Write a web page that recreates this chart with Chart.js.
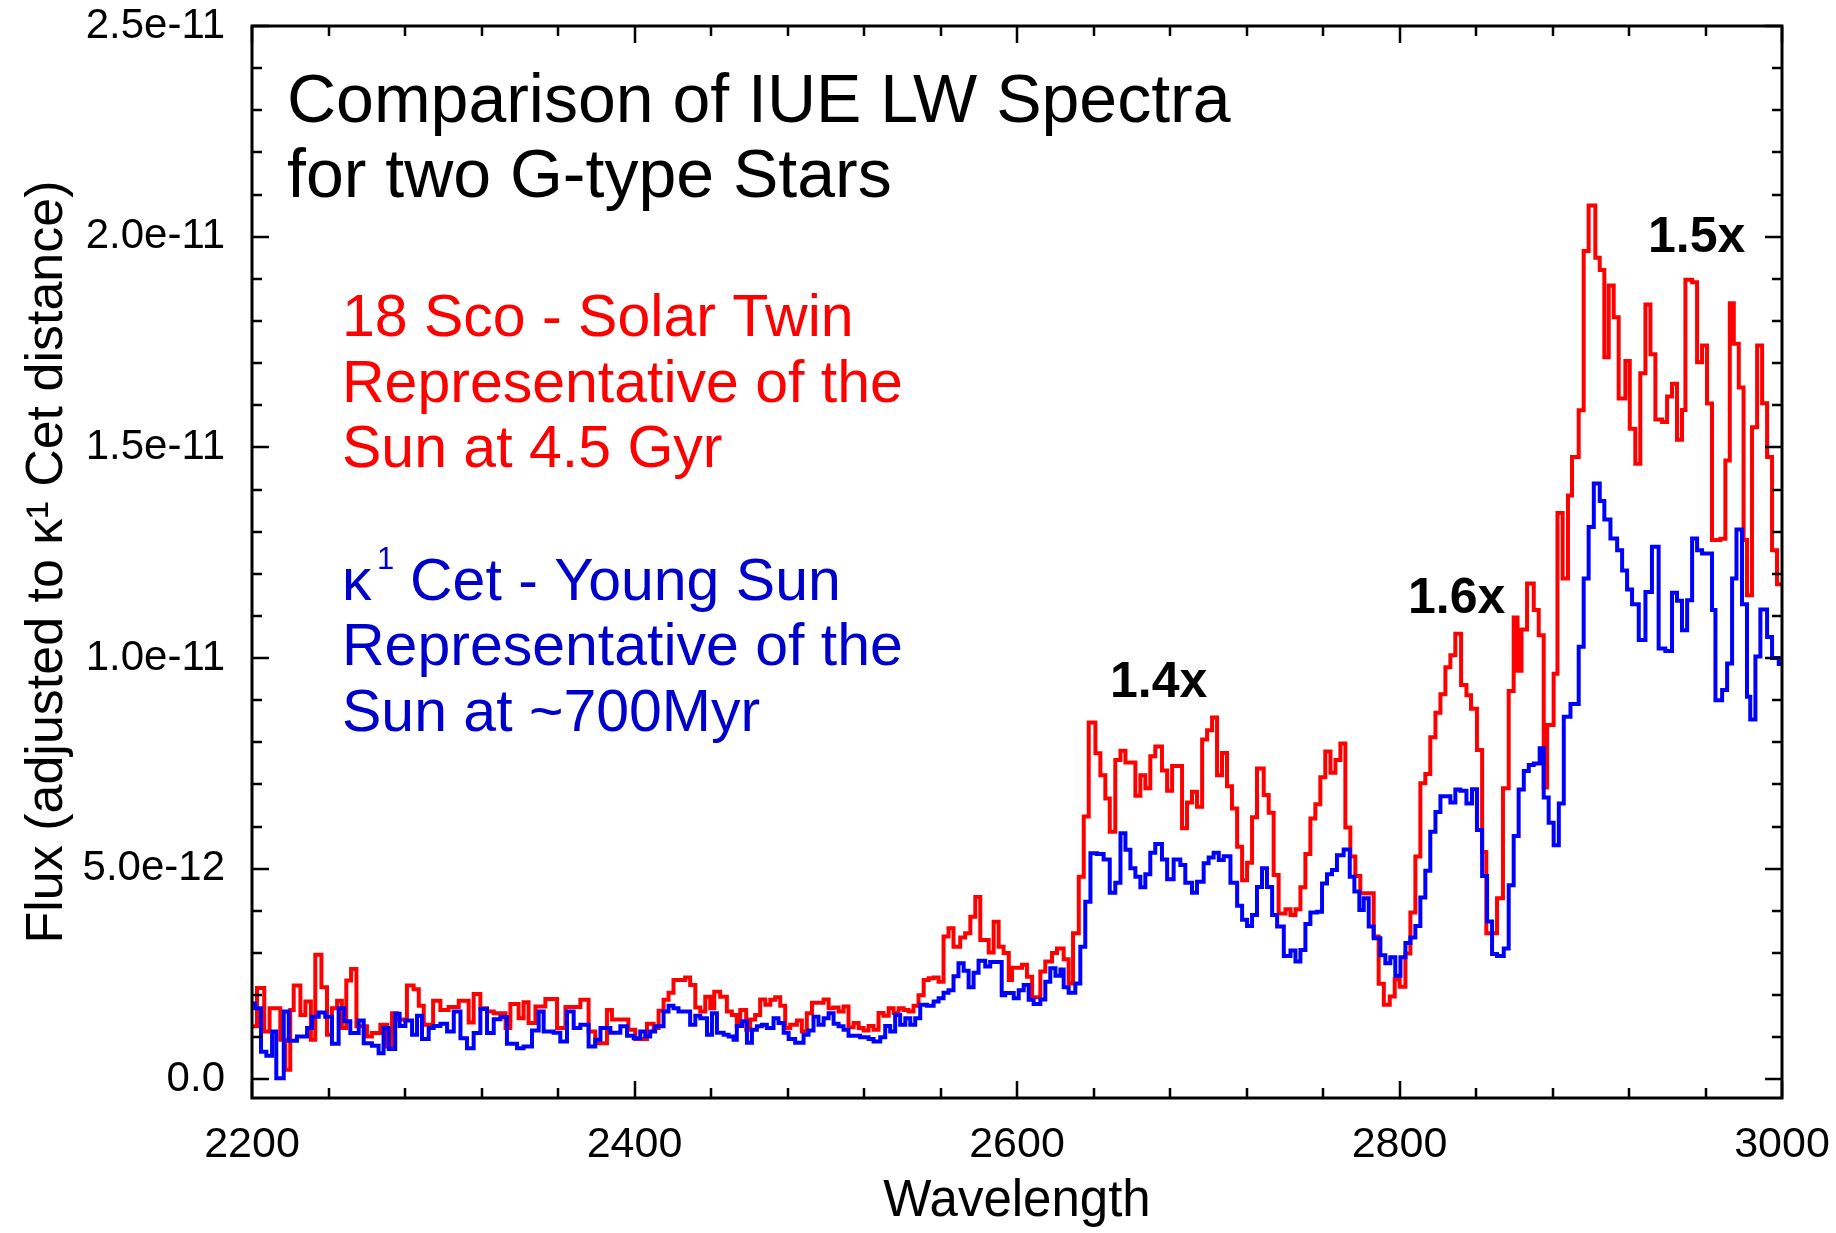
<!DOCTYPE html>
<html>
<head>
<meta charset="utf-8">
<script src="https://cdn.jsdelivr.net/npm/chart.js@4.4.0/dist/chart.umd.min.js"></script>
<style>
  html, body { margin: 0; padding: 0; background: #fff; }
</style>
</head>
<body>
<canvas id="spec" width="1836" height="1233"></canvas>
<script>
// step spectra: wavelength (A) where each step starts, flux in units of 1e-12
const redWave = [
  2200, 2202.6, 2206.4, 2209.2, 2214.8, 2217.4, 2220, 2221.8, 2225.3, 2227.9,
  2230.8, 2233.1, 2236.3, 2239.2, 2241.8, 2244.5, 2247, 2249.3, 2251.8, 2254.6,
  2260.1, 2262.7, 2267.1, 2270.6, 2273.2, 2275.8, 2281, 2284.5, 2287.2, 2289.8,
  2294.7, 2298.5, 2302.8, 2308.1, 2313.3, 2315.9, 2319.4, 2322.9, 2326.4, 2332.6,
  2335.1, 2339.4, 2342, 2344.6, 2348.2, 2353.4, 2359.5, 2363.9, 2371.7, 2376,
  2379.5, 2385.6, 2388.2, 2396.8, 2400.4, 2406.5, 2410, 2412.6, 2415.2, 2417.8,
  2420.4, 2426.5, 2429.1, 2431.8, 2434.4, 2437, 2439.6, 2441.7, 2444.8, 2448.3,
  2450.9, 2453.5, 2455.3, 2458.4, 2460.5, 2463.1, 2465.7, 2468.4, 2471, 2473.6,
  2476.2, 2478.8, 2481.4, 2484.9, 2487.5, 2490.1, 2492.8, 2498.9, 2501.5, 2504.1,
  2506.7, 2509.3, 2511.9, 2514.6, 2517.2, 2519.8, 2522.4, 2525, 2527.6, 2530.2,
  2532.9, 2535.5, 2538.1, 2540.7, 2543.3, 2545.9, 2548.5, 2551.2, 2553.8, 2556.4,
  2559, 2561.6, 2564.2, 2566.8, 2570.3, 2572.9, 2575.6, 2578.2, 2580.8, 2585.2,
  2587.8, 2590.4, 2593, 2595.7, 2597.4, 2602.6, 2605.2, 2607.9, 2612.2, 2614.8,
  2618.3, 2620.9, 2624.4, 2627, 2629.3, 2632.3, 2634.9, 2637.5, 2641, 2643.6,
  2646.2, 2648.5, 2651.4, 2654.1, 2656.7, 2661.9, 2664.5, 2667.1, 2669.7, 2672.3,
  2675.8, 2678.5, 2681.1, 2686.3, 2688.9, 2691.5, 2694.1, 2696.8, 2699.4, 2702,
  2704.6, 2707.2, 2709.8, 2712.4, 2715.1, 2717.7, 2720.3, 2722.9, 2725.5, 2729,
  2731.6, 2734.2, 2736.8, 2740.4, 2743, 2745.6, 2748.2, 2750.8, 2753.4, 2756,
  2758.6, 2761.2, 2763.9, 2766.5, 2769.1, 2771.7, 2774.3, 2776.9, 2779.5, 2786.5,
  2789.1, 2791.8, 2794.9, 2797.5, 2800.1, 2803.1, 2805.7, 2808.3, 2810.9, 2813.5,
  2816.1, 2818.8, 2821.4, 2824, 2826.6, 2829.2, 2832.2, 2835, 2837.4, 2840.5,
  2843.2, 2845.4, 2851, 2854.1, 2857.1, 2859.7, 2861.7, 2863.8, 2866.7, 2870.2,
  2872.8, 2875.4, 2877.2, 2880.6, 2882.6, 2885.3, 2888.1, 2890.2, 2893.7, 2896.3,
  2898.9, 2902.4, 2904.7, 2907.1, 2909.4, 2912, 2914.6, 2918.1, 2920.4, 2923.3,
  2925.9, 2928.6, 2931.2, 2933.8, 2937.3, 2939.9, 2942.5, 2945.1, 2947.7, 2949.5,
  2953, 2955.6, 2958.2, 2960.8, 2963.4, 2967.8, 2970.4, 2972.7, 2974.8, 2977.4,
  2979.9, 2981.7, 2984.3, 2987, 2989.6, 2992.2, 2994.8, 2997.4, 3000
]
const redFlux = [
  1.26, 2.17, 1.14, 1.69, 0.94, 0.23, 1.65, 2.23, 1.53, 1.85,
  0.94, 2.96, 2.19, 1.06, 1.69, 1.87, 1.22, 2.35, 2.62, 1.26,
  1.02, 1.10, 1.30, 0.78, 1.57, 1.42, 2.23, 2.14, 1.75, 1.30,
  1.87, 1.65, 1.72, 1.87, 1.35, 2.03, 1.69, 1.61, 1.57, 1.22,
  1.79, 1.45, 1.83, 1.34, 1.73, 1.91, 1.22, 1.72, 1.89, 1.14,
  0.86, 1.65, 1.42, 1.18, 0.96, 1.32, 1.22, 1.63, 1.89, 2.06,
  2.36, 2.42, 2.24, 1.71, 1.61, 1.96, 1.69, 2.08, 1.96, 1.61,
  1.53, 1.27, 1.65, 1.18, 1.42, 1.53, 1.90, 1.77, 1.89, 1.95,
  1.75, 1.22, 1.30, 1.40, 1.14, 1.57, 1.82, 1.90, 1.69, 1.71,
  1.61, 1.73, 1.24, 1.34, 1.22, 1.16, 1.27, 1.18, 1.58, 1.51,
  1.69, 1.58, 1.69, 1.65, 1.61, 1.75, 2.00, 2.36, 2.40, 2.42,
  2.32, 3.39, 3.59, 3.15, 3.37, 3.47, 3.86, 4.33, 3.31, 3.01,
  3.74, 3.15, 3.00, 2.36, 2.65, 2.72, 2.44, 1.95, 2.56, 2.80,
  3.00, 3.11, 2.85, 2.28, 3.47, 4.81, 6.24, 8.47, 7.74, 7.22,
  6.67, 5.88, 7.58, 7.80, 7.52, 6.73, 7.22, 6.91, 7.67, 7.90,
  7.33, 6.85, 7.44, 5.96, 6.57, 6.83, 6.47, 8.07, 8.29, 8.59,
  7.22, 7.75, 6.96, 6.43, 5.52, 4.73, 5.14, 6.22, 7.38, 6.75,
  6.33, 4.85, 3.94, 4.04, 3.90, 4.04, 4.56, 5.35, 6.19, 6.53,
  7.17, 7.78, 7.28, 7.58, 7.97, 5.98, 5.29, 4.83, 4.42, 3.39,
  2.27, 1.77, 1.97, 2.38, 2.20, 2.99, 3.96, 5.29, 7.03, 7.25,
  8.12, 8.70, 9.14, 9.78, 10.07, 10.58, 9.36, 9.12, 8.80, 7.82,
  5.40, 3.47, 4.30, 6.91, 9.22, 10.96, 9.70, 10.68, 11.77, 11.14,
  10.54, 6.93, 8.41, 9.63, 13.44, 11.89, 13.86, 14.77, 15.88, 19.66,
  20.74, 19.50, 19.21, 17.14, 18.84, 18.09, 16.16, 17.05, 15.44, 14.61,
  16.76, 18.39, 17.21, 15.66, 15.60, 16.21, 16.51, 15.18, 15.89, 18.98,
  18.92, 17.02, 17.42, 16.04, 12.80, 12.83, 14.69, 18.42, 17.46, 16.42,
  12.80, 11.49, 15.48, 17.42, 16.05, 14.77, 12.56, 11.75, 11.75
]
const blueWave = [
  2200, 2201.7, 2204.7, 2207.5, 2210.5, 2212.7, 2216.6, 2219.2, 2223.5, 2228.8,
  2231.4, 2234.9, 2238.3, 2241.8, 2245.3, 2248.3, 2251.4, 2255.8, 2258.4, 2262.7,
  2266.2, 2268.8, 2271.5, 2274.9, 2277.2, 2280.2, 2283.7, 2286.3, 2288.9, 2292.4,
  2295, 2298.5, 2302, 2305.5, 2309, 2312.4, 2315.9, 2319.4, 2322.9, 2326.4,
  2329.9, 2333.3, 2338.6, 2342, 2346.4, 2349.9, 2352.5, 2357.7, 2361.2, 2364.7,
  2368.2, 2371.7, 2376, 2379.5, 2382.2, 2387.4, 2392.6, 2396.1, 2399.6, 2403,
  2405.6, 2408.2, 2410.8, 2415.2, 2417.8, 2420.4, 2423, 2429.1, 2431.8, 2434.4,
  2437.9, 2440.5, 2443.1, 2446.6, 2449.2, 2451.8, 2453.5, 2456.2, 2458.8, 2461.4,
  2464, 2466.6, 2469.2, 2472.7, 2475.3, 2478, 2480.6, 2484, 2488.4, 2491,
  2493.6, 2496.2, 2498.9, 2501.5, 2504.1, 2506.7, 2509.3, 2511.9, 2518, 2522.4,
  2525, 2528.5, 2531.1, 2533.7, 2536.3, 2538.9, 2541.6, 2544.2, 2546.8, 2549.4,
  2552.9, 2556.4, 2559, 2561.6, 2564.2, 2566.8, 2569.4, 2572.1, 2574.7, 2577.3,
  2579.9, 2583.4, 2586, 2592, 2593.8, 2598.3, 2600.9, 2603.5, 2606.1, 2608.7,
  2612.2, 2614.8, 2617.4, 2620.1, 2622.7, 2624.4, 2627, 2630.5, 2633.1, 2635.7,
  2638.4, 2641.8, 2645.3, 2648.5, 2651.4, 2654.1, 2656.7, 2659.3, 2661.9, 2664.5,
  2667.1, 2669.7, 2672.3, 2675.8, 2678.5, 2681.9, 2685.4, 2688, 2691.5, 2694.1,
  2697.6, 2700.2, 2702.8, 2705.5, 2708.1, 2711.6, 2715.1, 2717.7, 2720.3, 2722.9,
  2725.5, 2728.1, 2730.7, 2733.4, 2736, 2739.5, 2743, 2745.6, 2748.2, 2750.8,
  2753.4, 2756.9, 2759.5, 2762.1, 2764.7, 2767.3, 2770.8, 2774, 2776.4, 2779,
  2781.3, 2783.9, 2786.5, 2790, 2792.6, 2795.2, 2797.8, 2800.5, 2803.1, 2805.7,
  2808.3, 2810.9, 2813.5, 2816.1, 2818.8, 2821.4, 2826.6, 2829.2, 2831.8, 2835,
  2837.9, 2840.5, 2843.2, 2845.8, 2848.4, 2851, 2854.5, 2857.1, 2859.7, 2862.3,
  2865, 2867.6, 2870.2, 2873.3, 2875.4, 2878, 2880.6, 2883.3, 2885.9, 2889.4,
  2893.7, 2896.3, 2898.9, 2901.6, 2904.7, 2907.1, 2910.3, 2913.8, 2916.4, 2919,
  2921.6, 2925.1, 2928.6, 2932, 2935.5, 2939, 2942.5, 2945.1, 2947.7, 2950.4,
  2953, 2955.6, 2958.2, 2963.4, 2965.2, 2968.7, 2971.3, 2973.9, 2976.2, 2979.1,
  2981.7, 2983.4, 2986.1, 2988.7, 2992.2, 2994.8, 2998.3, 3000
]
const blueFlux = [
  1.80, 1.69, 0.66, 0.56, 1.14, 0.03, 1.61, 0.92, 1.02, 1.22,
  1.49, 1.59, 1.49, 0.85, 1.69, 1.38, 1.10, 1.40, 0.86, 0.80,
  0.62, 1.22, 0.72, 1.56, 1.27, 1.40, 1.06, 1.51, 0.96, 1.22,
  1.27, 1.32, 1.14, 1.61, 0.98, 0.74, 1.10, 1.67, 1.10, 1.43,
  1.48, 0.85, 0.74, 0.78, 1.16, 1.61, 1.14, 1.11, 0.90, 1.61,
  1.22, 1.30, 0.78, 0.94, 1.22, 1.11, 1.26, 1.04, 0.98, 1.14,
  1.02, 1.14, 1.26, 1.61, 1.75, 1.69, 1.61, 1.30, 1.51, 1.45,
  1.06, 1.57, 1.11, 1.06, 1.02, 0.94, 1.27, 1.38, 0.87, 1.18,
  1.26, 1.30, 1.22, 1.45, 1.34, 1.11, 0.96, 0.87, 1.06, 1.16,
  1.49, 1.30, 1.45, 1.57, 1.32, 1.26, 1.18, 1.04, 1.00, 0.96,
  0.90, 1.00, 1.27, 1.14, 1.53, 1.30, 1.45, 1.30, 1.45, 1.77,
  1.75, 1.85, 1.93, 2.06, 2.12, 2.45, 2.76, 2.58, 2.19, 2.53,
  2.82, 2.68, 2.79, 2.00, 2.05, 1.93, 2.12, 2.24, 1.89, 1.79,
  1.90, 2.32, 2.64, 2.46, 2.61, 2.19, 2.06, 2.28, 3.15, 4.22,
  5.37, 5.35, 5.22, 4.43, 4.67, 5.84, 5.45, 5.01, 4.81, 4.56,
  4.87, 5.38, 5.59, 5.22, 4.75, 5.22, 5.09, 4.67, 4.43, 4.69,
  5.13, 5.27, 5.38, 5.21, 5.30, 4.67, 4.12, 3.79, 3.64, 3.90,
  4.57, 5.01, 4.57, 3.90, 3.63, 2.93, 3.06, 2.80, 3.07, 3.69,
  3.96, 3.98, 4.65, 4.87, 4.97, 5.32, 5.46, 4.81, 4.46, 4.02,
  4.30, 3.63, 3.35, 2.95, 2.76, 2.90, 2.46, 2.90, 3.24, 3.37,
  3.64, 4.32, 4.95, 5.88, 6.35, 6.72, 6.57, 6.88, 6.85, 6.55,
  6.89, 5.92, 4.83, 3.75, 2.98, 2.93, 3.11, 4.61, 5.78, 6.88,
  7.32, 7.46, 7.50, 7.86, 6.69, 6.09, 5.56, 6.55, 8.61, 8.91,
  10.27, 11.89, 13.11, 14.14, 13.73, 13.29, 12.84, 12.56, 12.08, 11.63,
  11.28, 10.43, 11.57, 12.64, 10.23, 10.17, 11.55, 11.36, 10.66, 11.37,
  12.84, 12.56, 12.48, 11.14, 9.00, 9.24, 9.87, 11.89, 13.05, 11.28,
  9.08, 8.54, 10.04, 11.15, 10.50, 10.00, 9.86, 9.86
]

const xTicks = [2200, 2400, 2600, 2800, 3000]
const yTicks = [0, 5e-12, 1e-11, 1.5e-11, 2e-11, 2.5e-11]
const yTickLabels = ['0.0', '5.0e-12', '1.0e-11', '1.5e-11', '2.0e-11', '2.5e-11']
const xMinorStep = 40
const yMinorStep = 1e-12

const FONT = '"Liberation Sans", Arial, Helvetica, sans-serif'

function toPoints(wave, flux) {
  return wave.map((w, i) => ({x: w, y: flux[i] * 1e-12}))
}

// box round the plot, with inward ticks on all four sides
const frameTicks = {
  id: 'frameTicks',
  afterDatasetsDraw(chart) {
    const {ctx, chartArea: a, scales: {x, y}} = chart
    ctx.save()
    ctx.strokeStyle = '#000'
    ctx.lineWidth = 3
    ctx.strokeRect(a.left, a.top, a.right - a.left, a.bottom - a.top)
    ctx.lineWidth = 2.5
    ctx.beginPath()
    for (let w = x.min; w <= x.max + 0.001; w += xMinorStep) {
      const px = Math.round(x.getPixelForValue(w))
      const len = xTicks.includes(Math.round(w)) ? 17 : 10
      ctx.moveTo(px, a.bottom); ctx.lineTo(px, a.bottom - len)
      ctx.moveTo(px, a.top); ctx.lineTo(px, a.top + len)
    }
    for (let k = 0; k * yMinorStep <= y.max * 1.0001; k++) {
      const py = Math.round(y.getPixelForValue(k * yMinorStep))
      const len = k % 5 === 0 ? 17 : 10
      ctx.moveTo(a.left, py); ctx.lineTo(a.left + len, py)
      ctx.moveTo(a.right, py); ctx.lineTo(a.right - len, py)
    }
    ctx.stroke()
    ctx.restore()
  }
}

// title block, star labels and ratio labels
const notes = {
  id: 'notes',
  afterDraw(chart) {
    const ctx = chart.ctx
    ctx.save()
    ctx.textBaseline = 'alphabetic'
    ctx.textAlign = 'left'

    ctx.fillStyle = '#000'
    ctx.font = '68px ' + FONT
    ctx.fillText('Comparison of IUE LW Spectra', 287, 122)
    ctx.fillText('for two G-type Stars', 287, 197)

    ctx.fillStyle = '#ff0000'
    ctx.font = '59px ' + FONT
    ctx.fillText('18 Sco - Solar Twin', 342, 336)
    ctx.fillText('Representative of the', 342, 402)
    ctx.fillText('Sun at 4.5 Gyr', 342, 467)

    ctx.fillStyle = '#0000cc'
    ctx.fillText('κ', 342, 600)
    ctx.font = '31px ' + FONT
    ctx.fillText('1', 377, 569)
    ctx.font = '59px ' + FONT
    ctx.fillText('Cet - Young Sun', 410, 600)
    ctx.fillText('Representative of the', 342, 665)
    ctx.fillText('Sun at ~700Myr', 342, 731)

    ctx.fillStyle = '#000'
    ctx.font = 'bold 50px ' + FONT
    ctx.fillText('1.4x', 1110, 697)
    ctx.fillText('1.6x', 1408, 613)
    ctx.fillText('1.5x', 1648, 252)
    ctx.restore()
  }
}

new Chart(document.getElementById('spec'), {
  type: 'line',
  data: {
    datasets: [
      {
        label: 'k1 Cet',
        data: toPoints(blueWave, blueFlux),
        borderColor: '#0000ff',
        borderWidth: 4,
        pointRadius: 0,
        stepped: true,
        fill: false
      },
      {
        label: '18 Sco',
        data: toPoints(redWave, redFlux),
        borderColor: '#ff0000',
        borderWidth: 4,
        pointRadius: 0,
        stepped: true,
        fill: false
      }
    ]
  },
  options: {
    responsive: false,
    animation: false,
    devicePixelRatio: 1,
    layout: {padding: {top: 26, right: 54, bottom: 0, left: 0}},
    plugins: {legend: {display: false}, tooltip: {enabled: false}},
    scales: {
      x: {
        type: 'linear',
        min: 2200,
        max: 3000,
        afterBuildTicks: s => { s.ticks = xTicks.map(v => ({value: v})) },
        afterFit: s => {
          s.height = 135
          s.paddingLeft = 0
          s.paddingRight = 0
        },
        grid: {display: false, drawTicks: false},
        border: {display: false},
        ticks: {
          color: '#000',
          font: {family: FONT, size: 43},
          padding: 21,
          maxRotation: 0,
          autoSkip: false,
          callback: v => String(v)
        },
        title: {
          display: true,
          text: 'Wavelength',
          color: '#000',
          font: {family: FONT, size: 51},
          padding: {top: 0, bottom: 0}
        }
      },
      y: {
        type: 'linear',
        min: -4.4e-13,
        max: 2.5e-11,
        afterBuildTicks: s => { s.ticks = yTicks.map(v => ({value: v})) },
        afterFit: s => {
          s.width = 252
          s.paddingTop = 0
          s.paddingBottom = 0
        },
        grid: {display: false, drawTicks: false},
        border: {display: false},
        ticks: {
          color: '#000',
          font: {family: FONT, size: 42},
          padding: 27,
          callback: (v, i) => yTickLabels[i]
        },
        title: {
          display: true,
          text: 'Flux (adjusted to κ¹ Cet distance)',
          color: '#000',
          font: {family: FONT, size: 52},
          padding: {top: 16, bottom: 0}
        }
      }
    }
  },
  plugins: [frameTicks, notes]
})
</script>
</body>
</html>
